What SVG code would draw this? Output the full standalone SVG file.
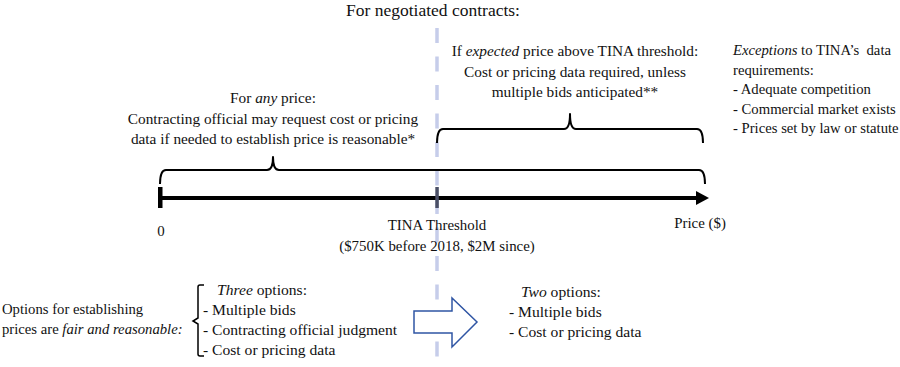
<svg xmlns="http://www.w3.org/2000/svg" width="900" height="367" viewBox="0 0 900 367">
<style>
text{font-family:"Liberation Serif","Times New Roman",serif;fill:#111;font-size:15.3px}
.c{text-anchor:middle}
.i{font-style:italic}
.ex{font-size:14.7px}
.ax{font-size:14.9px}
.ls{font-size:15.6px}
.br{fill:none;stroke:#000;stroke-width:2;stroke-linejoin:round}
</style>
<rect width="900" height="367" fill="#fff"/>
<g id="threshold-line">
<line x1="437" y1="28" x2="437" y2="367" stroke="#c6cdea" stroke-width="3.5" stroke-dasharray="15 13.5"/>
</g>
<g id="title"><text class="c" x="433" y="16" style="font-size:17.5px">For negotiated contracts:</text></g>
<g id="any-price">
<text class="c" x="273" y="103">For <tspan class="i">any</tspan> price:</text>
<text class="c" x="273" y="124">Contracting official may request cost or pricing</text>
<text class="c" x="273" y="144">data if needed to establish price is reasonable*</text>
</g>
<g id="expected-price">
<text class="c" x="575" y="56">If <tspan class="i">expected</tspan> price above TINA threshold:</text>
<text class="c" x="575" y="77">Cost or pricing data required, unless</text>
<text class="c" x="575" y="97">multiple bids anticipated**</text>
</g>
<g id="exceptions">
<text class="ex" x="733" y="55" xml:space="preserve"><tspan class="i">Exceptions</tspan> to TINA’s  data</text>
<text class="ex" x="733" y="75">requirements:</text>
<text class="ex" x="733" y="94">- Adequate competition</text>
<text class="ex" x="733" y="114">- Commercial market exists</text>
<text class="ex" x="733" y="133">- Prices set by law or statute</text>
</g>
<g id="connectors">
<path class="br" d="M437,143 Q437,129 443,129 L564,129 Q570,129 570,114 Q570,129 576,129 L697,129 Q703,129 703,143"/>
<path class="br" d="M160,184 Q160,170 166,170 L267,170 Q273,170 273,157 Q273,170 279,170 L699,170 Q705,170 705,184"/>
</g>
<g id="axis">
<line x1="160" y1="198" x2="698" y2="198" stroke="#000" stroke-width="4"/>
<polygon points="696,191 709,198 696,205" fill="#000"/>
<rect x="158" y="187" width="4.5" height="21" fill="#000"/>
<rect x="435.3" y="187" width="3.5" height="21" fill="#4a4f66"/>
<text class="c ax" x="161" y="236">0</text>
<text class="c ax" x="437" y="230">TINA Threshold</text>
<text class="c ax" x="437" y="251">($750K before 2018, $2M since)</text>
<text class="c ax" x="700" y="228">Price ($)</text>
</g>
<g id="options-label">
<text class="ex" x="2" y="314">Options for establishing</text>
<text class="ex" x="2" y="334">prices are <tspan class="i">fair and reasonable:</tspan></text>
</g>
<g id="three-options">
<path d="M204,285 L200,285 Q198,285 198,287 L198,318 L193,321 L198,324 L198,354 Q198,356 200,356 L204,356" fill="none" stroke="#000" stroke-width="1.5"/>
<text class="ls" x="217" y="295"><tspan class="i">Three</tspan> options:</text>
<text class="ls" x="203" y="315">- Multiple bids</text>
<text class="ls" x="203" y="335">- Contracting official judgment</text>
<text class="ls" x="203" y="355">- Cost or pricing data</text>
</g>
<g id="arrow">
<polygon points="414,311 452,311 452,298 477,322 452,347 452,333 414,333" fill="#fff" stroke="#2f55a4" stroke-width="1.5"/>
</g>
<g id="two-options">
<text class="ls" x="521" y="297"><tspan class="i">Two</tspan> options:</text>
<text class="ls" x="509" y="317">- Multiple bids</text>
<text class="ls" x="509" y="337">- Cost or pricing data</text>
</g>
</svg>
